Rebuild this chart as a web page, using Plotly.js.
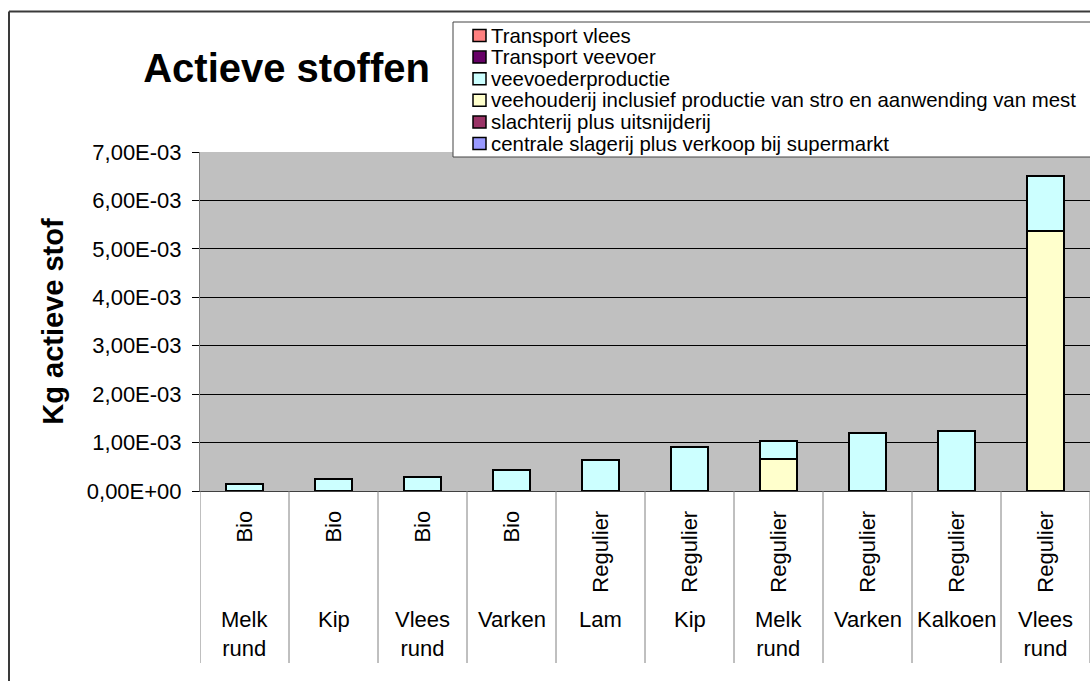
<!DOCTYPE html>
<html>
<head>
<meta charset="utf-8">
<script src="https://cdn.plot.ly/plotly-3.0.1.min.js"></script>
<style>html,body{margin:0;padding:0;background:#fff;}#chart{width:1090px;height:681px;}</style>
</head>
<body>
<div id="chart"></div>
<script>
// ---- data ----
const groups = ["Bio","Bio","Bio","Bio","Regulier","Regulier","Regulier","Regulier","Regulier","Regulier"];
const animals = ["Melk<br>rund","Kip","Vlees<br>rund","Varken","Lam","Kip","Melk<br>rund","Varken","Kalkoen","Vlees<br>rund"];

const seriesNames = [
  "Transport vlees",
  "Transport veevoer",
  "veevoederproductie",
  "veehouderij inclusief productie van stro en aanwending van mest",
  "slachterij plus uitsnijderij",
  "centrale slagerij plus verkoop bij supermarkt"
];
const transportVlees   = [0,0,0,0,0,0,0,0,0,0];
const transportVeevoer = [0,0,0,0,0,0,0,0,0,0];
const veevoederproductie = [0.00015,0.00024,0.00028,0.00043,0.00064,0.00091,0.00037,0.00119,0.00124,0.00113];
const veehouderij = [0,0,0,0,0,0,0.00066,0,0,0.00537];
const slachterij = [0,0,0,0,0,0,0,0,0,0];
const centraleSlagerij = [0,0,0,0,0,0,0,0,0,0];

const yTickVals = [0,0.001,0.002,0.003,0.004,0.005,0.006,0.007];
const yTickText = ["0,00E+00","1,00E-03","2,00E-03","3,00E-03","4,00E-03","5,00E-03","6,00E-03","7,00E-03"];

// ---- styles ----
const seriesColors = ["#FF8080","#660066","#CCFFFF","#FFFFCC","#993366","#9999FF"];
const FONT = "Liberation Sans, Arial, sans-serif";

// plot area geometry (pixels)
const W = 1090, H = 681;
const M = {l: 200, r: 0, t: 152, b: 190};
const plotW = W - M.l - M.r, plotH = H - M.t - M.b;
const px = x => (x - M.l) / plotW;      // pixel x -> paper
const py = y => (H - M.b - y) / plotH;  // pixel y -> paper

const xKeys = animals.map((a, i) => a.replace("<br>", " ") + " – " + groups[i]);

// stack order bottom -> top (reverse of legend)
const seriesValues = [transportVlees, transportVeevoer, veevoederproductie, veehouderij, slachterij, centraleSlagerij];
const traces = [];
for (let k = seriesNames.length - 1; k >= 0; k--) {
  traces.push({
    type: "bar",
    name: seriesNames[k],
    x: xKeys,
    y: seriesValues[k],
    marker: {color: seriesColors[k], line: {color: "#000000", width: 2}},
    hoverinfo: "skip"
  });
}

const shapes = [];
const annotations = [];

// outer chart border
shapes.push({type: "line", xref: "paper", yref: "paper", x0: px(9), x1: px(1100), y0: py(11.5), y1: py(11.5), line: {color: "#3a3a3a", width: 2}});
shapes.push({type: "line", xref: "paper", yref: "paper", x0: px(9), x1: px(9), y0: py(11.5), y1: py(700), line: {color: "#3a3a3a", width: 2}});

// category dividers below the axis
for (let i = 0; i <= xKeys.length; i++) {
  shapes.push({type: "line", xref: "x", yref: "paper", x0: i - 0.5, x1: i - 0.5, y0: 0, y1: py(663), line: {color: "#808080", width: 1}});
}

// animal labels (outer level)
animals.forEach((a, i) => {
  annotations.push({xref: "x", yref: "paper", x: xKeys[i], y: py(605), xanchor: "center", yanchor: "top",
    text: a, showarrow: false, font: {family: FONT, size: 22, color: "#000"}});
});

// legend box (custom, to match the compact Excel legend)
shapes.push({type: "rect", xref: "paper", yref: "paper", layer: "above", x0: px(453), x1: px(1100), y0: py(22), y1: py(157),
  fillcolor: "#ffffff", line: {color: "#444444", width: 1}});
const rowTop = 35.5, rowStep = 21.62;
seriesNames.forEach((n, k) => {
  const cy = rowTop + k * rowStep;
  shapes.push({type: "rect", xref: "paper", yref: "paper", layer: "above", x0: px(473), x1: px(486), y0: py(cy - 6), y1: py(cy + 6),
    fillcolor: seriesColors[k], line: {color: "#000000", width: 1.5}});
  annotations.push({xref: "paper", yref: "paper", x: px(489), y: py(cy), xanchor: "left", yanchor: "middle",
    text: n, showarrow: false, font: {family: FONT, size: 20.4, color: "#000"}});
});

const layout = {
  width: W, height: H,
  margin: M,
  paper_bgcolor: "#ffffff",
  plot_bgcolor: "#C0C0C0",
  barmode: "stack",
  bargap: 0.59,
  showlegend: false,
  font: {family: FONT, color: "#000"},
  title: {text: "Actieve stoffen", xref: "container", yref: "container", x: 0.2629, y: 1 - 67.5 / H,
    xanchor: "center", yanchor: "middle", font: {family: FONT, size: 40, weight: "bold", color: "#000"}},
  xaxis: {
    type: "category", tickmode: "array", tickvals: xKeys, ticktext: groups,
    tickangle: -90, ticks: "", ticklabelstandoff: 10,
    tickfont: {family: FONT, size: 22, color: "#000"},
    showgrid: false, showline: true, linecolor: "#404040", linewidth: 1, zeroline: false,
    range: [-0.5, xKeys.length - 0.5], fixedrange: true
  },
  yaxis: {
    range: [0, 0.007], tickmode: "array", tickvals: yTickVals, ticktext: yTickText,
    ticks: "outside", ticklen: 7, tickcolor: "#000", tickwidth: 1, ticklabelstandoff: 6,
    tickfont: {family: FONT, size: 22, color: "#000"},
    showgrid: true, gridcolor: "#000000", gridwidth: 1,
    zeroline: true, zerolinecolor: "#000000", zerolinewidth: 1,
    showline: true, linecolor: "#808080", linewidth: 1,
    automargin: false,
    title: {text: "Kg actieve stof", standoff: 14, font: {family: FONT, size: 29, weight: "bold", color: "#000"}},
    fixedrange: true
  },
  shapes: shapes,
  annotations: annotations
};

Plotly.newPlot("chart", traces, layout, {displayModeBar: false, staticPlot: true});
</script>
</body>
</html>
